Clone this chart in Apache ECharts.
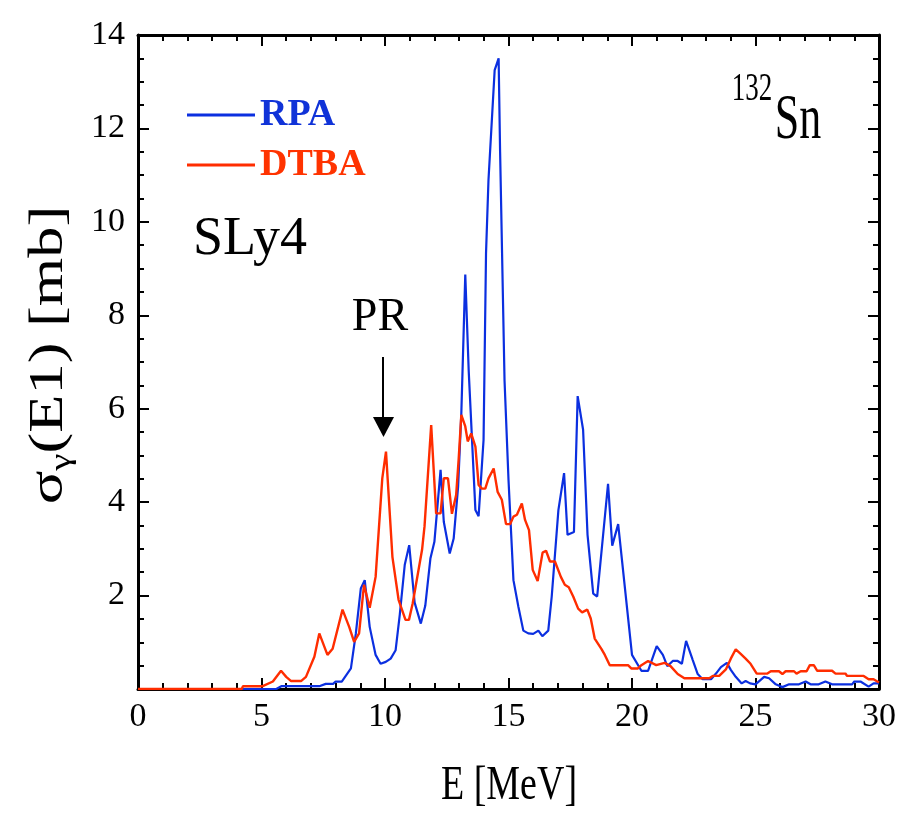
<!DOCTYPE html>
<html>
<head>
<meta charset="utf-8">
<script src="https://cdn.jsdelivr.net/npm/echarts@6/dist/echarts.min.js"></script>
<style>
html,body{margin:0;padding:0;background:#fff;}
#chart{width:899px;height:815px;}
</style>
</head>
<body>
<div id="chart"></div>
<script>
// ---- data ----
const rpaE = [0, 5.6, 5.8, 7.34, 7.6, 7.9, 8.0, 8.25, 8.62, 8.82, 9.02, 9.18, 9.38, 9.62, 9.82, 10.03, 10.23, 10.43, 10.6, 10.8, 10.98, 11.2, 11.45, 11.63, 11.84, 12.0, 12.25, 12.38, 12.62, 12.78, 12.96, 13.09, 13.25, 13.39, 13.66, 13.79, 13.99, 14.09, 14.19, 14.44, 14.6, 14.66, 14.84, 15.0, 15.2, 15.4, 15.6, 15.8, 16.0, 16.21, 16.37, 16.61, 16.75, 17.02, 17.25, 17.39, 17.65, 17.8, 18.02, 18.2, 18.43, 18.59, 19.03, 19.2, 19.44, 20.0, 20.38, 20.65, 21.0, 21.25, 21.43, 21.65, 21.85, 22.02, 22.19, 22.46, 22.66, 22.86, 23.2, 23.4, 23.6, 23.84, 24.0, 24.2, 24.44, 24.6, 24.78, 25.0, 25.35, 25.55, 25.82, 26.09, 26.36, 26.76, 27.03, 27.23, 27.56, 27.83, 28.1, 28.91, 29.0, 29.25, 29.58, 29.78, 30];
const rpaSigma = [0, 0, 0.06, 0.06, 0.11, 0.11, 0.16, 0.16, 0.44, 1.19, 2.15, 2.33, 1.33, 0.73, 0.54, 0.58, 0.65, 0.83, 1.6, 2.66, 3.08, 1.85, 1.40, 1.78, 2.80, 3.15, 4.69, 3.58, 2.90, 3.22, 4.33, 5.90, 8.87, 6.80, 3.83, 3.70, 5.33, 9.33, 10.9, 13.25, 13.5, 11.5, 6.6, 4.48, 2.33, 1.76, 1.25, 1.19, 1.18, 1.25, 1.13, 1.25, 1.98, 3.83, 4.62, 3.30, 3.36, 6.27, 5.55, 3.30, 2.04, 1.98, 4.39, 3.07, 3.53, 0.73, 0.39, 0.39, 0.92, 0.73, 0.49, 0.60, 0.60, 0.54, 1.03, 0.62, 0.32, 0.21, 0.21, 0.33, 0.47, 0.56, 0.41, 0.26, 0.12, 0.17, 0.12, 0.10, 0.26, 0.23, 0.10, 0.04, 0.10, 0.10, 0.16, 0.10, 0.10, 0.16, 0.10, 0.10, 0.16, 0.16, 0.05, 0.12, 0.12];

const dtbaE = [0, 4.2, 4.25, 5.05, 5.46, 5.79, 6.0, 6.2, 6.6, 6.8, 7.14, 7.34, 7.67, 7.88, 8.28, 8.55, 8.75, 8.95, 9.15, 9.38, 9.62, 9.89, 10.04, 10.3, 10.55, 10.83, 10.97, 11.12, 11.5, 11.6, 11.87, 11.9, 12.07, 12.25, 12.38, 12.55, 12.71, 12.88, 12.98, 13.09, 13.25, 13.35, 13.49, 13.66, 13.79, 13.92, 14.06, 14.19, 14.4, 14.56, 14.73, 14.9, 15.07, 15.2, 15.34, 15.54, 15.67, 15.83, 15.98, 16.18, 16.38, 16.52, 16.68, 16.88, 17.12, 17.28, 17.44, 17.62, 17.82, 17.98, 18.19, 18.33, 18.49, 18.76, 18.9, 19.1, 19.84, 19.97, 20.24, 20.38, 20.65, 20.98, 21.32, 21.56, 21.85, 22.12, 23.13, 23.27, 23.53, 23.8, 24.0, 24.2, 24.4, 24.6, 24.8, 25.05, 25.48, 25.62, 25.95, 26.09, 26.22, 26.56, 26.66, 26.83, 27.07, 27.2, 27.36, 27.5, 28.1, 28.24, 28.64, 28.71, 29.38, 29.58, 29.78, 30];
const dtbaSigma = [0, 0, 0.06, 0.06, 0.16, 0.39, 0.26, 0.17, 0.17, 0.26, 0.69, 1.19, 0.73, 0.86, 1.70, 1.33, 1.01, 1.19, 2.23, 1.74, 2.40, 4.51, 5.08, 2.83, 1.91, 1.48, 1.48, 1.83, 2.98, 3.48, 5.65, 5.65, 3.76, 3.76, 4.51, 4.51, 3.75, 4.15, 4.90, 5.87, 5.62, 5.30, 5.47, 5.19, 4.37, 4.29, 4.29, 4.51, 4.72, 4.22, 4.05, 3.53, 3.53, 3.69, 3.73, 3.97, 3.62, 3.40, 2.55, 2.31, 2.92, 2.96, 2.73, 2.73, 2.40, 2.23, 2.18, 1.98, 1.72, 1.64, 1.70, 1.51, 1.08, 0.86, 0.73, 0.51, 0.51, 0.44, 0.44, 0.51, 0.60, 0.51, 0.56, 0.49, 0.32, 0.23, 0.23, 0.28, 0.28, 0.42, 0.65, 0.85, 0.75, 0.65, 0.54, 0.33, 0.33, 0.38, 0.38, 0.32, 0.38, 0.38, 0.33, 0.38, 0.38, 0.51, 0.51, 0.39, 0.39, 0.33, 0.33, 0.28, 0.28, 0.21, 0.21, 0.14];

const seriesNames = ['RPA', 'DTBA'];
const xRange = [0, 30];
const yRange = [0, 14];

// ---- chart ----
const BLUE = '#0b2fe0';
const RED = '#ff2d00';
const SERIF = '"Liberation Serif", "Times New Roman", serif';

const chart = echarts.init(document.getElementById('chart'), null, {renderer: 'canvas'});

function pairs(xs, ys) { return xs.map((x, i) => [x, ys[i]]); }

const axisCommon = {
  type: 'value',
  axisLine: {show: true, onZero: false, lineStyle: {color: '#000', width: 3}},
  axisTick: {show: true, inside: true, length: 11, lineStyle: {color: '#000', width: 2}},
  minorTick: {show: true, length: 6, lineStyle: {color: '#000', width: 2}},
  splitLine: {show: false},
  minorSplitLine: {show: false}
};

const option = {
  animation: false,
  backgroundColor: '#fff',
  grid: {left: 138, right: 17, top: 35, bottom: 126, containLabel: false},
  legend: {
    orient: 'vertical',
    left: 182,
    top: 91,
    itemWidth: 68,
    itemHeight: 3,
    itemGap: 12,
    icon: 'rect',
    textStyle: {fontFamily: SERIF, fontSize: 38, fontWeight: 'bold'},
    data: [
      {name: seriesNames[0], textStyle: {color: '#1033d8'}},
      {name: seriesNames[1], textStyle: {color: '#ff3300'}}
    ]
  },
  xAxis: [
    Object.assign({}, axisCommon, {
      position: 'bottom', min: xRange[0], max: xRange[1], interval: 5,
      minorTick: Object.assign({}, axisCommon.minorTick, {splitNumber: 5}),
      axisLabel: {show: true, margin: 11, color: '#000', fontFamily: SERIF, fontSize: 34}
    }),
    Object.assign({}, axisCommon, {
      position: 'top', min: xRange[0], max: xRange[1], interval: 5,
      minorTick: Object.assign({}, axisCommon.minorTick, {splitNumber: 5}),
      axisLabel: {show: false}
    })
  ],
  yAxis: [
    Object.assign({}, axisCommon, {
      position: 'left', min: yRange[0], max: yRange[1], interval: 2,
      minorTick: Object.assign({}, axisCommon.minorTick, {splitNumber: 4}),
      axisLabel: {show: true, margin: 13, color: '#000', fontFamily: SERIF, fontSize: 34,
        formatter: v => (v === 0 ? '' : String(v))}
    }),
    Object.assign({}, axisCommon, {
      position: 'right', min: yRange[0], max: yRange[1], interval: 2,
      minorTick: Object.assign({}, axisCommon.minorTick, {splitNumber: 4}),
      axisLabel: {show: false}
    })
  ],
  series: [
    {
      name: seriesNames[0], type: 'line', xAxisIndex: 0, yAxisIndex: 0,
      data: pairs(rpaE, rpaSigma), showSymbol: false, symbol: 'none',
      lineStyle: {color: BLUE, width: 2.2}, itemStyle: {color: BLUE}, z: 2
    },
    {
      name: seriesNames[1], type: 'line', xAxisIndex: 0, yAxisIndex: 0,
      data: pairs(dtbaE, dtbaSigma), showSymbol: false, symbol: 'none',
      lineStyle: {color: RED, width: 2.4}, itemStyle: {color: RED}, z: 3
    }
  ],
  graphic: [
    // y axis title
    {
      type: 'text', x: 49, y: 355, rotation: Math.PI / 2, scaleX: 1.3,
      style: {
        text: '{s|σ}{g|γ}{s|(E1) [mb]}',
        align: 'center', verticalAlign: 'middle', fill: '#000',
        rich: {
          s: {fontFamily: SERIF, fontSize: 48, lineHeight: 56, fill: '#000'},
          g: {fontFamily: SERIF, fontSize: 30, lineHeight: 30, verticalAlign: 'bottom', fill: '#000'}
        }
      }
    },
    // x axis title
    {
      type: 'text', x: 509, y: 786, scaleY: 1.3,
      style: {text: 'E [MeV]', fontFamily: SERIF, fontSize: 38, fill: '#000',
        align: 'center', verticalAlign: 'middle'}
    },
    // nucleus label
    {
      type: 'text', x: 752, y: 90, scaleY: 1.45,
      style: {text: '132', fontFamily: SERIF, fontSize: 27, fill: '#000',
        align: 'center', verticalAlign: 'middle'}
    },
    {
      type: 'text', x: 798, y: 121, scaleY: 1.45,
      style: {text: 'Sn', fontFamily: SERIF, fontSize: 44, fill: '#000',
        align: 'center', verticalAlign: 'middle'}
    },
    // interaction label
    {
      type: 'text', x: 250, y: 240,
      style: {text: 'SLy4', fontFamily: SERIF, fontSize: 54, fill: '#000',
        align: 'center', verticalAlign: 'middle'}
    },
    // PR annotation and arrow
    {
      type: 'text', x: 380, y: 318,
      style: {text: 'PR', fontFamily: SERIF, fontSize: 46, fill: '#000',
        align: 'center', verticalAlign: 'middle'}
    },
    {
      type: 'line', shape: {x1: 383, y1: 357, x2: 383, y2: 420},
      style: {stroke: '#000', lineWidth: 2}
    },
    {
      type: 'polygon', shape: {points: [[373, 417], [394, 417], [383.5, 437]]},
      style: {fill: '#000'}
    }
  ]
};

chart.setOption(option);
</script>
</body>
</html>
